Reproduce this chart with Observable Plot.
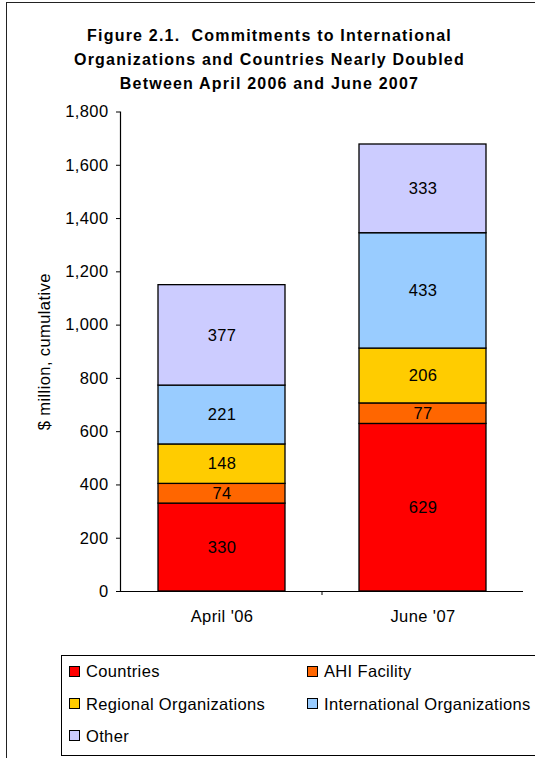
<!DOCTYPE html>
<html>
<head>
<meta charset="utf-8">
<script src="https://cdn.jsdelivr.net/npm/d3@7"></script>
<script src="https://cdn.jsdelivr.net/npm/@observablehq/plot@0.6"></script>
<style>
  html, body { margin: 0; padding: 0; background: #fff; }
  #wrap { position: relative; width: 535px; height: 758px; overflow: hidden; font-family: "Liberation Sans", Arial, sans-serif; }
  #outer { position: absolute; left: 6px; top: 2px; width: 600px; height: 800px; border: 1.3px solid #222; box-sizing: border-box; }
  #title { position: absolute; left: 2px; width: 535px; top: 24px; text-align: center; font-weight: bold; font-size: 16px; line-height: 24px; letter-spacing: 1.2px; color: #000; white-space: pre; }
  #chart { position: absolute; left: 0; top: 0; }
  #legend { position: absolute; left: 61px; top: 655px; width: 600px; height: 101px; border: 1.3px solid #000; box-sizing: border-box; }
  .item { position: absolute; font-size: 16.5px; letter-spacing: 0.35px; line-height: 18px; color: #000; }
  .sw { position: absolute; width: 9px; height: 9px; border: 1.2px solid #000; }
</style>
</head>
<body>
<div id="wrap">
  <div id="outer"></div>
  <div id="chart"></div>
  <div id="title"></div>
  <div id="legend"></div>
</div>
<script>
const titleLines = ["Figure 2.1.  Commitments to International", "Organizations and Countries Nearly Doubled", "Between April 2006 and June 2007"];
const periods = ["April '06", "June '07"];
const categories = ["Countries", "AHI Facility", "Regional Organizations", "International Organizations", "Other"];
const colors = ["#ff0000", "#ff6600", "#ffcc00", "#99ccff", "#ccccff"];
const aprilValues = [330, 74, 148, 221, 377];
const juneValues = [629, 77, 206, 433, 333];
const yTicks = [0, 200, 400, 600, 800, 1000, 1200, 1400, 1600, 1800];
const yLabel = "$ million, cumulative";

const data = [];
categories.forEach((c, i) => {
  data.push({period: periods[0], category: c, value: aprilValues[i]});
  data.push({period: periods[1], category: c, value: juneValues[i]});
});

document.getElementById("title").textContent = titleLines.join("\n");

const fmt = d3.format(",d");

const plot = Plot.plot({
  width: 535,
  height: 640,
  marginTop: 111.5,
  marginBottom: 49,
  marginLeft: 120,
  marginRight: 12,
  style: {fontFamily: "'Liberation Sans', Arial, sans-serif", fontSize: "16.5px", letterSpacing: "0.4px", color: "#000", background: "transparent"},
  x: {domain: periods, paddingInner: 0.37, paddingOuter: 0.185, label: null},
  y: {domain: [0, 1800]},
  color: {domain: categories, range: colors},
  marks: [
    Plot.barY(data, Plot.stackY({x: "period", y: "value", fill: "category", stroke: "#000", strokeWidth: 1.3, inset: 0})),
    Plot.text(data, Plot.stackY({x: "period", y: "value", text: d => String(d.value), fill: "#000", fontSize: 16.5})),
    Plot.axisY({ticks: yTicks, tickFormat: fmt, tickSize: 4, tickPadding: 8, label: yLabel, labelAnchor: "center", labelOffset: 82, labelArrow: "none"}),
    Plot.axisX({tickSize: 0, tickPadding: 19, label: null}),
    Plot.ruleY([0], {stroke: "#000", strokeWidth: 1.2}),
    Plot.frame({anchor: "left", stroke: "#000", strokeWidth: 1.2})
  ]
});
document.getElementById("chart").appendChild(plot);

// category-boundary tick on the x axis (Excel style), placed with the x scale
const xs = plot.scale("x");
const ys = plot.scale("y");
const svg = d3.select(plot);
const step = xs.step;
const bx = xs.apply(periods[0]) + xs.bandwidth + (step - xs.bandwidth) / 2;
svg.append("line").attr("x1", bx).attr("x2", bx).attr("y1", ys.apply(0)).attr("y2", ys.apply(0) + 4).attr("stroke", "#000").attr("stroke-width", 1);

// legend
const legend = document.getElementById("legend");
const pos = [[7, 16], [245, 16], [7, 48.5], [245, 48.5], [7, 80.5]];
categories.forEach((c, i) => {
  const [lx, cy] = pos[i];
  const sw = document.createElement("div");
  sw.className = "sw";
  sw.style.left = lx + "px";
  sw.style.top = (cy - 6.5) + "px";
  sw.style.background = colors[i];
  legend.appendChild(sw);
  const t = document.createElement("div");
  t.className = "item";
  t.style.left = (lx + 17) + "px";
  t.style.top = (cy - 10) + "px";
  t.textContent = c;
  legend.appendChild(t);
});
</script>
</body>
</html>
